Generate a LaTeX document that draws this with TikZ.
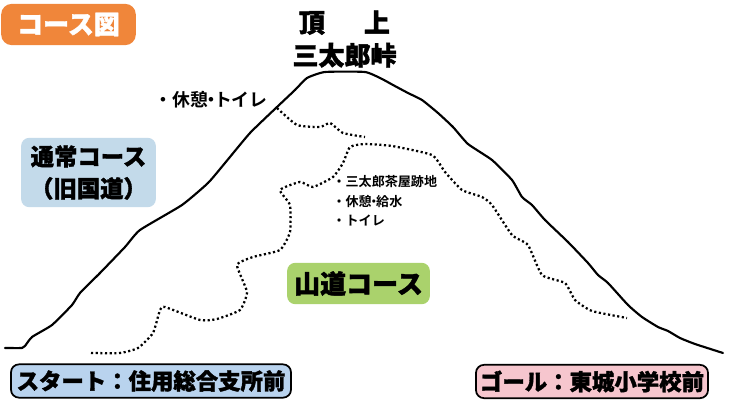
\documentclass[tikz,border=0pt]{standalone}
\usepackage{fontspec}
\setmainfont{Noto Sans CJK JP}[BoldFont={Noto Sans CJK JP Black},BoldFeatures={FakeBold=1.5}]
\newfontfamily\notefont{Noto Sans CJK JP Bold}
\definecolor{orangebox}{HTML}{F0863A}
\definecolor{bluebox}{HTML}{C3DAEA}
\definecolor{greenbox}{HTML}{AAD26C}
\definecolor{startbox}{HTML}{B9D3EE}
\definecolor{goalbox}{HTML}{F6C6CE}
\newcommand{\sepdot}{\hspace{-0.33em}・\hspace{-0.33em}}
\tikzset{
	titlebox/.style = {rounded corners=8pt, inner sep=0pt, align=center, font=\bfseries\fontsize{19.5}{23}\selectfont},
	endbox/.style = {titlebox, draw=black, line width=1.3pt, rounded corners=6pt, font=\bfseries\fontsize{16.8}{20}\selectfont},
	ridge/.style = {line width=1.6pt, line join=round, line cap=round},
	trail/.style = {line width=1.7pt, dash pattern=on 1.6pt off 1.9pt},
	note/.style = {inner sep=0pt, align=left, font=\notefont\fontsize{9.8}{14.6}\selectfont}
}
\begin{document}
\begin{tikzpicture}[x=0.75pt, y=-0.75pt]
	\useasboundingbox (0,0) rectangle (729,410);
	
	\node[titlebox, fill=orangebox, text=white, minimum width=101pt, minimum height=31pt](course) at (68.5,24.5){コース図};
	\node[titlebox, fill=bluebox, minimum width=101pt, minimum height=52pt, rounded corners=6pt, font=\bfseries\fontsize{17.5}{24}\selectfont](normal) at (88.5,172.5){通常コース\\（旧国道）};
	\node[titlebox, fill=greenbox, minimum width=107pt, minimum height=31pt, rounded corners=6pt](trailbox) at (358.5,283.5){山道コース};
	\node[endbox, fill=startbox, minimum width=210pt, minimum height=25pt](start) at (151,381){スタート：住用総合支所前};
	\node[endbox, fill=goalbox, minimum width=174pt, minimum height=25pt](goal) at (592,381.5){ゴール：東城小学校前};
	
	\node[inner sep=0pt, align=center, font=\bfseries\fontsize{19.5}{24.5}\selectfont](summit) at (344.5,39){頂\hspace{1.5em}上\\三太郎峠};
	\node[note, font=\notefont\fontsize{13.4}{15}\selectfont](restA) at (214,100){\hspace{-0.33em}・休憩\sepdot トイレ};
	\node[note](restB) at (387,201){\hspace{-0.33em}・三太郎茶屋跡地\\\hspace{-0.33em}・休憩\sepdot 給水\\\hspace{-0.33em}・トイレ};
	
	% mountain outline
	\draw[ridge] plot[smooth, tension=0.3] coordinates {
		(5,348) (22,348) (25,346) (32,337) (52,325) (72,305) (80,293) (100,273)
		(125,247) (140,230) (182,205) (208,183) (225,163) (250,133) (277,107)
		(295,90) (307,78) (325,72) (365,72) (382,79) (393,85) (408,93) (422,100)
		(438,113) (453,127) (468,144) (492,160) (512,180) (522,197) (532,205)
		(545,220) (568,242) (588,263) (598,275) (608,283) (628,305) (642,317)
		(658,327) (668,331) (680,338) (695,344) (723,353)};
	
	% short branch
	\draw[trail] plot[smooth, tension=0.3] coordinates {
		(277,108) (297,125) (320,127) (330,123) (343,133) (365,137)};
	
	% mountain trail
	\draw[trail] plot[smooth, tension=0.3] coordinates {
		(91,353) (120,353) (138,348) (153,333) (160,310) (165,307) (200,320)
		(217,319) (240,310) (247,292) (237,265) (253,257) (280,250) (290,232)
		(290,205) (280,190) (300,182) (313,187) (333,177) (343,163) (350,147)
		(365,144) (392,146) (432,155) (445,172) (462,190) (482,197) (492,205)
		(512,235) (528,245) (542,275) (565,283) (575,300) (592,311) (627,318)};
\end{tikzpicture}
\end{document}
